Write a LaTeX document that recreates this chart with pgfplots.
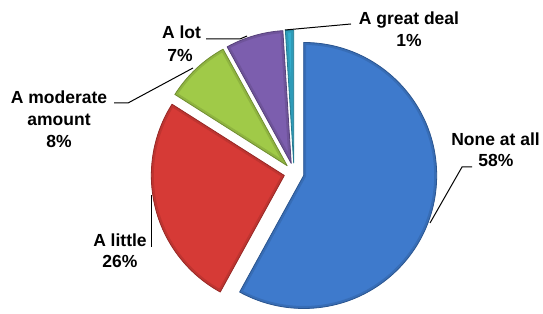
\documentclass[border=0pt]{standalone}
\usepackage{pgfplots}
\pgfplotsset{compat=1.18}
\usepackage{pgfplotstable}
\usepackage{fontspec}
\setmainfont{Liberation Sans}

\definecolor{pblue}{RGB}{62,122,204}
\definecolor{pred}{RGB}{214,58,54}
\definecolor{pgreen}{RGB}{160,202,72}
\definecolor{ppurple}{RGB}{124,94,174}
\definecolor{pcyan}{RGB}{52,174,206}

\pgfplotstableread[col sep=comma]{
label,value
None at all,58
A little,26
A moderate amount,8
A lot,7
A great deal,1
}\piedata

\begin{document}
\begin{tikzpicture}
\begin{axis}[
  hide axis, scale only axis, width=543bp, height=314bp,
  xmin=0, xmax=543, ymin=0, ymax=314, clip=false]
\addplot[draw=none] coordinates {(0,0) (543,314)};
\pgfplotsextra{
  \gdef\cum{0}
  \foreach \i/\col in {0/pblue,1/pred,2/pgreen,3/ppurple,4/pcyan}{
    \pgfplotstablegetelem{\i}{value}\of\piedata
    \let\v\pgfplotsretval
    \pgfmathsetmacro\aS{90-3.6*\cum}
    \pgfmathsetmacro\aE{90-3.6*(\cum+\v)}
    \pgfmathsetmacro\aM{(\aS+\aE)/2}
    \pgfmathsetmacro\vx{294+10*cos(\aM)}
    \pgfmathsetmacro\vy{141+10*sin(\aM)}
    \fill[\col]
      (axis cs:\vx,\vy) -- ++(\aS:133bp) arc[start angle=\aS, end angle=\aE, radius=133bp] -- cycle;
    \begin{scope}
      \clip (axis cs:\vx,\vy) -- ++(\aS:133bp) arc[start angle=\aS, end angle=\aE, radius=133bp] -- cycle;
      \draw[draw=\col!70!black, line width=5bp, opacity=0.35, line join=round]
        (axis cs:\vx,\vy) -- ++(\aS:133bp) arc[start angle=\aS, end angle=\aE, radius=133bp] -- cycle;
    \end{scope}
    \draw[draw=\col!70!black, line width=0.8bp, line join=round]
      (axis cs:\vx,\vy) -- ++(\aS:133bp) arc[start angle=\aS, end angle=\aE, radius=133bp] -- cycle;
    \pgfmathsetmacro\newcum{\cum+\v}
    \xdef\cum{\newcum}
  }
}
% leader lines
\draw[black, line width=1bp] (axis cs:430,91) -- (axis cs:462,147) -- (axis cs:472,147);
\draw[black, line width=1bp] (axis cs:285,284) -- (axis cs:351,290);
\draw[black, line width=1bp] (axis cs:206,275) -- (axis cs:240,275) -- (axis cs:247,278);
\draw[black, line width=1bp] (axis cs:114,211) -- (axis cs:128,211) -- (axis cs:193,246);
\draw[black, line width=1bp] (axis cs:151,119) -- (axis cs:151,67);
% labels
\tikzset{lab/.style={anchor=base, inner sep=0pt, font=\fontsize{17.5bp}{21bp}\selectfont\bfseries}}
\node[lab] at (axis cs:495.5,168) {None at all};
\node[lab] at (axis cs:496,147) {58\%};
\node[lab] at (axis cs:409,289) {A great deal};
\node[lab] at (axis cs:409,267) {1\%};
\node[lab] at (axis cs:181.5,275) {A lot};
\node[lab] at (axis cs:180,252) {7\%};
\node[lab] at (axis cs:59,210) {A moderate};
\node[lab] at (axis cs:59,188) {amount};
\node[lab] at (axis cs:59,166) {8\%};
\node[lab] at (axis cs:120,67) {A little};
\node[lab] at (axis cs:120,46) {26\%};
\end{axis}
\pgfresetboundingbox
\useasboundingbox (0,0) rectangle (543bp,314bp);
\end{tikzpicture}
\end{document}
